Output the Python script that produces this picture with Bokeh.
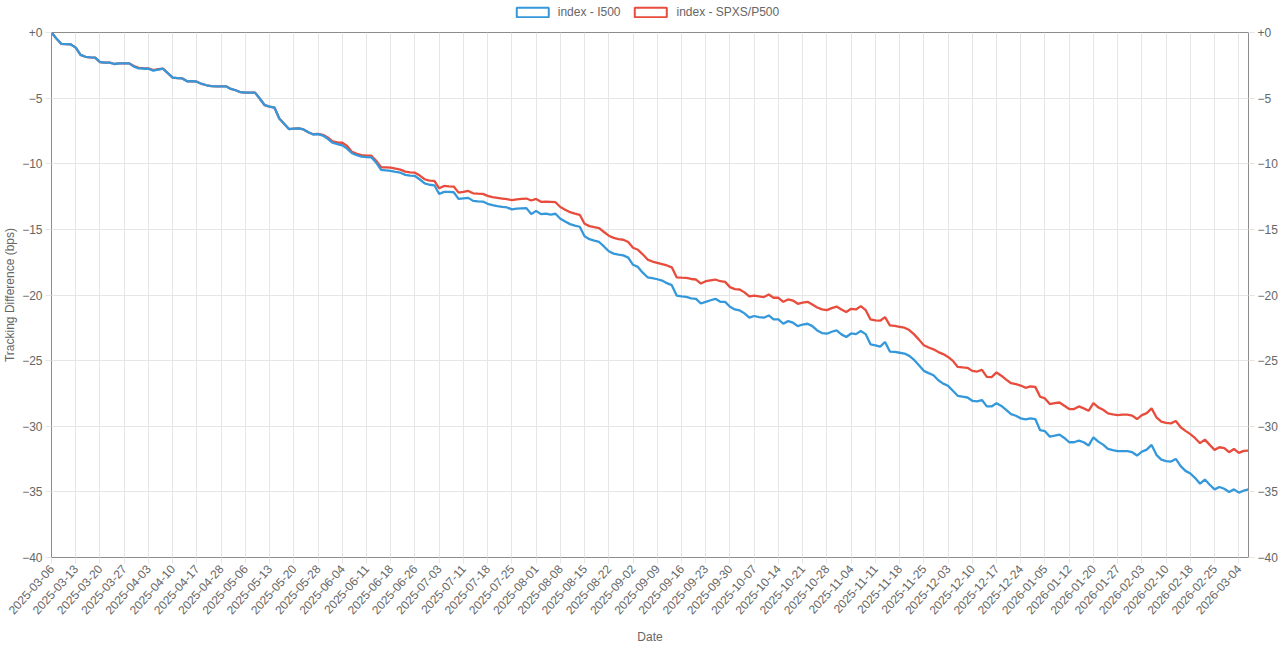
from bokeh.plotting import figure
from bokeh.layouts import column
from bokeh.models import Range1d, LinearAxis, FixedTicker, Legend, LegendItem
from bokeh.embed import file_html
from bokeh.resources import INLINE

tick_labels = [
    "2025-03-06", "2025-03-13", "2025-03-20", "2025-03-27", "2025-04-03", "2025-04-10",
    "2025-04-17", "2025-04-28", "2025-05-06", "2025-05-13", "2025-05-20", "2025-05-28",
    "2025-06-04", "2025-06-11", "2025-06-18", "2025-06-26", "2025-07-03", "2025-07-11",
    "2025-07-18", "2025-07-25", "2025-08-01", "2025-08-08", "2025-08-15", "2025-08-22",
    "2025-09-02", "2025-09-09", "2025-09-16", "2025-09-23", "2025-09-30", "2025-10-07",
    "2025-10-14", "2025-10-21", "2025-10-28", "2025-11-04", "2025-11-11", "2025-11-18",
    "2025-11-25", "2025-12-03", "2025-12-10", "2025-12-17", "2025-12-24", "2026-01-05",
    "2026-01-12", "2026-01-20", "2026-01-27", "2026-02-03", "2026-02-10", "2026-02-18",
    "2026-02-25", "2026-03-04",
]
tick_step = 5

i500 = [
    0.0, -0.45, -0.86, -0.88, -0.91, -1.15, -1.7, -1.85, -1.9, -1.92,
    -2.25, -2.3, -2.3, -2.4, -2.36, -2.35, -2.35, -2.6, -2.74, -2.76,
    -2.76, -2.9, -2.82, -2.76, -3.1, -3.44, -3.47, -3.5, -3.72, -3.7,
    -3.75, -3.92, -4.02, -4.08, -4.1, -4.1, -4.1, -4.3, -4.4, -4.55,
    -4.58, -4.58, -4.58, -5.05, -5.54, -5.65, -5.72, -6.55, -6.95, -7.36,
    -7.32, -7.31, -7.39, -7.6, -7.77, -7.75, -7.85, -8.1, -8.4, -8.5,
    -8.6, -8.85, -9.2, -9.35, -9.46, -9.5, -9.51, -9.92, -10.47, -10.5,
    -10.55, -10.62, -10.68, -10.85, -10.9, -10.93, -11.2, -11.49, -11.6, -11.64,
    -12.3, -12.14, -12.15, -12.17, -12.68, -12.64, -12.6, -12.83, -12.86, -12.88,
    -13.05, -13.15, -13.22, -13.28, -13.33, -13.48, -13.42, -13.4, -13.38, -13.84,
    -13.59, -13.84, -13.8, -13.87, -13.81, -14.19, -14.4, -14.6, -14.72, -14.8,
    -15.53, -15.75, -15.86, -15.96, -16.3, -16.67, -16.85, -16.93, -16.98, -17.15,
    -17.7, -17.86, -18.3, -18.65, -18.72, -18.8, -18.9, -19.1, -19.25, -20.04,
    -20.1, -20.14, -20.25, -20.29, -20.65, -20.52, -20.4, -20.29, -20.52, -20.52,
    -20.9, -21.1, -21.18, -21.4, -21.73, -21.6, -21.68, -21.73, -21.56, -21.86,
    -21.86, -22.19, -21.99, -22.11, -22.37, -22.25, -22.19, -22.37, -22.7, -22.9,
    -22.95, -22.8, -22.7, -23.0, -23.2, -22.93, -22.98, -22.75, -22.98, -23.76,
    -23.83, -23.93, -23.58, -24.31, -24.34, -24.4, -24.46, -24.64, -24.95, -25.35,
    -25.78, -25.95, -26.11, -26.5, -26.75, -26.92, -27.3, -27.68, -27.75, -27.81,
    -28.06, -28.1, -28.0, -28.49, -28.49, -28.24, -28.45, -28.75, -29.07, -29.2,
    -29.4, -29.48, -29.4, -29.45, -30.3, -30.38, -30.79, -30.72, -30.64, -30.89,
    -31.22, -31.22, -31.1, -31.22, -31.47, -30.84, -31.17, -31.4, -31.73, -31.82,
    -31.9, -31.9, -31.9, -31.98, -32.23, -31.93, -31.78, -31.42, -32.18, -32.54,
    -32.65, -32.69, -32.49, -33.04, -33.4, -33.6, -33.95, -34.38, -34.06, -34.46,
    -34.81, -34.63, -34.76, -35.01, -34.81, -35.06, -34.91, -34.81,
]

spxs_p500 = [
    0.0, -0.45, -0.86, -0.88, -0.91, -1.15, -1.7, -1.85, -1.9, -1.92,
    -2.25, -2.3, -2.3, -2.4, -2.36, -2.35, -2.35, -2.56, -2.7, -2.72,
    -2.73, -2.87, -2.8, -2.75, -3.1, -3.44, -3.47, -3.5, -3.72, -3.7,
    -3.75, -3.92, -4.02, -4.08, -4.1, -4.1, -4.1, -4.3, -4.4, -4.55,
    -4.58, -4.58, -4.58, -5.05, -5.54, -5.65, -5.72, -6.55, -6.95, -7.36,
    -7.32, -7.31, -7.39, -7.6, -7.75, -7.72, -7.8, -8.0, -8.3, -8.38,
    -8.4, -8.65, -9.1, -9.25, -9.34, -9.38, -9.39, -9.77, -10.27, -10.27,
    -10.3, -10.37, -10.45, -10.6, -10.65, -10.68, -10.9, -11.18, -11.28, -11.3,
    -11.87, -11.69, -11.72, -11.74, -12.2, -12.15, -12.07, -12.25, -12.28, -12.3,
    -12.45, -12.55, -12.6, -12.65, -12.7, -12.78, -12.72, -12.68, -12.65, -12.8,
    -12.68, -12.9, -12.88, -12.9, -12.93, -13.3, -13.5, -13.69, -13.8, -13.89,
    -14.57, -14.75, -14.83, -14.9, -15.2, -15.48, -15.65, -15.74, -15.79, -15.96,
    -16.4, -16.55, -16.9, -17.3, -17.45, -17.55, -17.65, -17.75, -17.89, -18.65,
    -18.68, -18.7, -18.78, -18.82, -19.13, -18.95, -18.88, -18.82, -18.95, -19.0,
    -19.4, -19.55, -19.58, -19.8, -20.11, -20.04, -20.1, -20.16, -19.96, -20.21,
    -20.21, -20.52, -20.34, -20.42, -20.67, -20.58, -20.52, -20.72, -20.95, -21.1,
    -21.15, -21.0, -20.88, -21.1, -21.3, -21.05, -21.1, -20.85, -21.15, -21.86,
    -21.94, -21.96, -21.68, -22.31, -22.35, -22.42, -22.49, -22.67, -23.0, -23.4,
    -23.83, -24.0, -24.14, -24.35, -24.5, -24.72, -25.02, -25.48, -25.52, -25.55,
    -25.78, -25.83, -25.71, -26.24, -26.26, -25.9, -26.15, -26.45, -26.72, -26.79,
    -26.9, -27.07, -26.97, -27.0, -27.75, -27.88, -28.31, -28.24, -28.19, -28.44,
    -28.69, -28.69, -28.49, -28.64, -28.82, -28.24, -28.56, -28.74, -29.02, -29.1,
    -29.15, -29.12, -29.12, -29.19, -29.45, -29.15, -29.0, -28.64, -29.32, -29.65,
    -29.75, -29.78, -29.6, -30.08, -30.35, -30.6, -30.91, -31.29, -31.02, -31.42,
    -31.8, -31.6, -31.67, -31.98, -31.73, -32.03, -31.88, -31.85,
]

y_ticks = [-40, -35, -30, -25, -20, -15, -10, -5, 0]

BLUE = "#3498db"
RED = "#e74c3c"
TEXT = "#666666"
FONT = "Liberation Sans"
GRID = "#e6e6e6"
AXIS = "#8c8c8c"

FRAME_W, FRAME_H = 1197, 525
LEFT_B, RIGHT_B = 45, 30
LEGEND_H = 24

n = len(i500)
xs = list(range(n))
x_ticks = [k * tick_step for k in range(len(tick_labels))]

# ---- legend strip (own small figure so it is not clipped by the plot frame)
lf = figure(width=LEFT_B + FRAME_W + RIGHT_B, height=LEGEND_H, output_backend="svg",
            toolbar_location=None, x_axis_type=None, y_axis_type=None,
            x_range=Range1d(0, 1), y_range=Range1d(0, 1),
            min_border_left=0, min_border_right=0, min_border_top=0, min_border_bottom=0)
lf.outline_line_color = None
lf.grid.visible = False
lf.background_fill_color = "white"
lf.border_fill_color = "white"
nan = float("nan")
blue_box = lf.quad(left=[nan], right=[nan], top=[nan], bottom=[nan], fill_color="white",
                   line_color=BLUE, line_width=2)
red_box = lf.quad(left=[nan], right=[nan], top=[nan], bottom=[nan], fill_color="white",
                  line_color=RED, line_width=2)
legend = Legend(items=[LegendItem(label="index - I500", renderers=[blue_box]),
                       LegendItem(label="index - SPXS/P500", renderers=[red_box])],
                orientation="horizontal", location="center",
                glyph_width=40, glyph_height=12, label_standoff=6, spacing=10,
                padding=0, margin=0, border_line_color=None, background_fill_alpha=0,
                label_text_font=FONT, label_text_font_size="12px", label_text_color=TEXT)
lf.add_layout(legend, "center")

# ---- main chart
p = figure(frame_width=FRAME_W, frame_height=FRAME_H, output_backend="svg", toolbar_location=None,
           x_range=Range1d(0, n - 1), y_range=Range1d(-40, 0),
           min_border_left=LEFT_B, min_border_right=RIGHT_B, min_border_top=32 - LEGEND_H,
           min_border_bottom=4)
p.outline_line_color = AXIS
p.outline_line_width = 1
p.background_fill_color = "white"
p.border_fill_color = "white"

p.line(xs, spxs_p500, line_color=RED, line_width=2.3)
p.line(xs, i500, line_color=BLUE, line_width=2.3)

# y axes
yticker = FixedTicker(ticks=y_ticks)
overrides = {0: "+0"}
right_axis = LinearAxis()
p.add_layout(right_axis, "right")
for ax in (p.yaxis[0], right_axis):
    ax.ticker = yticker
    ax.major_label_overrides = overrides
    ax.minor_tick_line_color = None
    ax.major_tick_in = 0
    ax.major_tick_out = 6
    ax.major_tick_line_color = GRID
    ax.axis_line_color = AXIS
    ax.major_label_text_font = FONT
    ax.major_label_text_font_size = "12px"
    ax.major_label_text_color = TEXT
    ax.major_label_standoff = 3
p.yaxis[0].axis_label = "Tracking Difference (bps)"
p.yaxis[0].axis_label_standoff = 2

# x axis
xax = p.xaxis[0]
xax.ticker = FixedTicker(ticks=x_ticks)
xax.major_label_overrides = {t: lab for t, lab in zip(x_ticks, tick_labels)}
xax.major_label_orientation = 0.84
xax.minor_tick_line_color = None
xax.major_tick_in = 0
xax.major_tick_out = 6
xax.major_tick_line_color = GRID
xax.axis_line_color = AXIS
xax.major_label_text_font = FONT
xax.major_label_text_font_size = "12px"
xax.major_label_text_color = TEXT
xax.major_label_standoff = 3
xax.axis_label = "Date"
xax.axis_label_standoff = 9

for ax in (p.yaxis[0], xax):
    ax.axis_label_text_font = FONT
    ax.axis_label_text_font_size = "12px"
    ax.axis_label_text_font_style = "normal"
    ax.axis_label_text_color = TEXT

p.xgrid.ticker = FixedTicker(ticks=x_ticks)
p.ygrid.ticker = yticker
p.xgrid.grid_line_color = GRID
p.ygrid.grid_line_color = GRID

layout = column(lf, p, spacing=0)

open("out.html", "w").write(file_html(layout, INLINE))
